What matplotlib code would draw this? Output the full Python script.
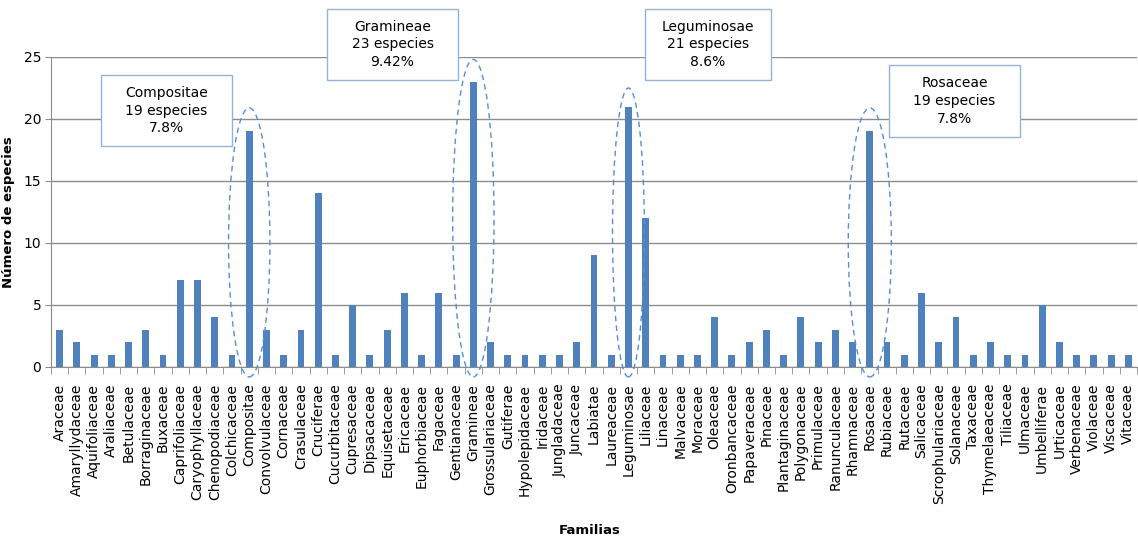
import matplotlib
matplotlib.use("Agg")
import matplotlib.pyplot as plt
import numpy as np
from matplotlib.patches import Ellipse

familias = [
    "Araceae", "Amaryllydaceae", "Aquifoliaceae", "Araliaceae", "Betulaceae",
    "Borraginaceae", "Buxaceae", "Caprifoliaceae", "Caryophyllaceae", "Chenopodiaceae",
    "Colchicaceae", "Compositae", "Convolvulaceae", "Cornaceae", "Crasulaceae",
    "Cruciferae", "Cucurbitaceae", "Cupresaceae", "Dipsacaceae", "Equisetaceae",
    "Ericaceae", "Euphorbiaceae", "Fagaceae", "Gentianaceae", "Gramineae",
    "Grossulariaceae", "Gutiferae", "Hypolepidaceae", "Iridaceae", "Jungladaceae",
    "Juncaceae", "Labiatae", "Laureaceae", "Leguminosae", "Liliaceae",
    "Linaceae", "Malvaceae", "Moraceae", "Oleaceae", "Oronbancaceae",
    "Papaveraceae", "Pinaceae", "Plantaginaceae", "Polygonaceae", "Primulaceae",
    "Ranunculaceae", "Rhamnaceae", "Rosaceae", "Rubiaceae", "Rutaceae",
    "Salicaceae", "Scrophulariaceae", "Solanaceae", "Taxaceae", "Thymelaeaceae",
    "Tiliaceae", "Ulmaceae", "Umbelliferae", "Urticaceae", "Verbenaceae",
    "Violaceae", "Viscaceae", "Vitaceae",
]
especies = [
    3, 2, 1, 1, 2, 3, 1, 7, 7, 4,
    1, 19, 3, 1, 3, 14, 1, 5, 1, 3,
    6, 1, 6, 1, 23, 2, 1, 1, 1, 1,
    2, 9, 1, 21, 12, 1, 1, 1, 4, 1,
    2, 3, 1, 4, 2, 3, 2, 19, 2, 1,
    6, 2, 4, 1, 2, 1, 1, 5, 2, 1,
    1, 1, 1,
]

# highlighted families and their label text
destacadas = ["Compositae", "Gramineae", "Leguminosae", "Rosaceae"]
textos = [
    "Compositae\n19 especies\n7.8%",
    "Gramineae\n23 especies\n9.42%",
    "Leguminosae\n21 especies\n8.6%",
    "Rosaceae\n19 especies\n7.8%",
]
# box positions in figure pixels (x0, y0 top, width, height)
cajas = [(101, 75, 131, 71), (327, 9, 131, 71), (645, 9, 126, 71), (889, 65, 131, 72)]
# ellipse (width in categories, top value)
elipses = [(2.4, 20.9), (2.4, 24.8), (1.85, 22.5), (2.5, 20.9)]

W, H = 1138, 539
fig = plt.figure(figsize=(W / 100, H / 100), dpi=100)
ax = fig.add_axes([51 / W, 1 - 367 / H, (1137 - 51) / W, (367 - 57) / H])

x = np.arange(len(familias))
ax.bar(x, especies, width=0.4, color="#4F81BD", zorder=3)

ax.set_xlim(-0.5, len(familias) - 0.5)
ax.set_ylim(0, 25)
ax.set_yticks([0, 5, 10, 15, 20, 25])
ax.yaxis.grid(True, color="#8C8C8C", linewidth=1, zorder=0)
ax.tick_params(axis="y", labelsize=10, length=4, color="#8C8C8C", pad=3)

ax.set_xticks(x)
ax.set_xticklabels(familias, rotation=90, fontsize=10)
ax.tick_params(axis="x", which="major", length=0, pad=12)
ax.set_xticks(np.arange(-0.5, len(familias), 1), minor=True)
ax.tick_params(axis="x", which="minor", length=5, color="#8C8C8C")

for s in ["top", "right"]:
    ax.spines[s].set_visible(False)
for s in ["left", "bottom"]:
    ax.spines[s].set_color("#8C8C8C")

ax.set_ylabel("Número de especies", fontsize=9.5, fontweight="bold")
ax.yaxis.set_label_coords(-0.033, 0.5)
fig.text(590 / W, 1 - 530 / H, "Familias", fontsize=9.5, fontweight="bold",
         ha="center", va="center")

for fam, (w, top) in zip(destacadas, elipses):
    i = familias.index(fam)
    bottom = -0.8
    e = Ellipse((i, (top + bottom) / 2), w, top - bottom, fill=False,
                edgecolor="#558ED5", linestyle=(0, (4, 3)), linewidth=1,
                clip_on=False, zorder=4)
    ax.add_patch(e)

for txt, (bx, by, bw, bh) in zip(textos, cajas):
    rect = plt.Rectangle((bx / W, 1 - (by + bh) / H), bw / W, bh / H,
                         transform=fig.transFigure, fill=True, facecolor="white",
                         edgecolor="#95B3D7", linewidth=1, zorder=5)
    fig.add_artist(rect)
    fig.text((bx + bw / 2) / W, 1 - (by + bh / 2) / H, txt, ha="center",
             va="center", fontsize=10, linespacing=1.35, zorder=6)

fig.savefig("out.png", dpi=100)
